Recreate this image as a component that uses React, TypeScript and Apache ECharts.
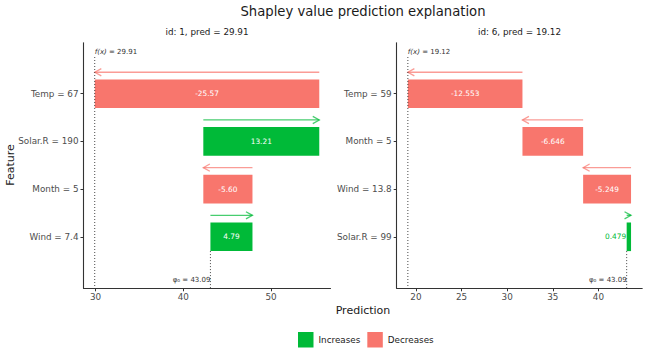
import React, { useEffect, useRef } from "react";
import * as echarts from "echarts";

// ---------- data ----------
const baseValue = 43.09;
const leftId = 1;
const leftPred = 29.91;
const leftFeatures = ["Wind = 7.4", "Month = 5", "Solar.R = 190", "Temp = 67"];
const leftContrib = [4.79, -5.6, 13.21, -25.57];
const leftTicks = [30, 40, 50];

const rightId = 6;
const rightPred = 19.12;
const rightFeatures = ["Solar.R = 99", "Wind = 13.8", "Month = 5", "Temp = 59"];
const rightContrib = [0.479, -5.249, -6.646, -12.553];
const rightTicks = [20, 25, 30, 35, 40];

const featureTicks = [1, 2, 3, 4];
const legendNames = ["Increases", "Decreases"];

// ---------- style ----------
const FONT = "DejaVu Sans";
const GREEN = "#00BA38";
const RED = "#F8766D";
const GREEN_ARROW = "rgba(0,186,56,0.72)";
const RED_ARROW = "rgba(248,118,109,0.72)";
const Y_MIN = -0.08;
const Y_MAX = 5.07;

function waterfall(contrib: number[]) {
  let cur = baseValue;
  return contrib.map((v, i) => {
    const s = cur;
    cur = cur + v;
    return [s, cur, i + 1, v];
  });
}

function range(rows: number[][], pred: number) {
  const vals = [pred, baseValue];
  rows.forEach((r) => vals.push(r[0], r[1]));
  const lo = Math.min(...vals);
  const hi = Math.max(...vals);
  const pad = (hi - lo) * 0.05;
  return [lo - pad, hi + pad];
}

function barRender(fill: string, arrow: string, decimals: number) {
  return (params: any, api: any) => {
    const start = api.value(0);
    const end = api.value(1);
    const y = api.value(2);
    const v = api.value(3);
    const a = api.coord([start, y + 0.3]);
    const b = api.coord([end, y - 0.3]);
    const x0 = Math.min(a[0], b[0]);
    const x1 = Math.max(a[0], b[0]);
    const y0 = Math.min(a[1], b[1]);
    const y1 = Math.max(a[1], b[1]);
    const ay = api.coord([start, y + 0.45])[1];
    const dir = end > start ? 1 : -1;
    const tip = b[0];
    const label = v.toFixed(decimals);
    const inside = x1 - x0 > 30;
    return {
      type: "group",
      children: [
        {
          type: "rect",
          shape: { x: x0, y: y0, width: x1 - x0, height: y1 - y0 },
          style: { fill },
        },
        {
          type: "line",
          shape: { x1: a[0], y1: ay, x2: tip, y2: ay },
          style: { stroke: arrow, lineWidth: 1.3 },
        },
        {
          type: "polyline",
          shape: {
            points: [
              [tip - dir * 6.5, ay - 3.6],
              [tip, ay],
              [tip - dir * 6.5, ay + 3.6],
            ],
          },
          style: { stroke: arrow, lineWidth: 1.3, fill: "none" },
        },
        {
          type: "text",
          x: inside ? (x0 + x1) / 2 : x0 - 0.5,
          y: (y0 + y1) / 2,
          style: {
            text: label,
            fill: inside ? "#ffffff" : fill,
            fontSize: 7.4,
            fontFamily: FONT,
            align: inside ? "center" : "right",
            verticalAlign: "middle",
          },
        },
      ],
    };
  };
}

function annotRender(params: any, api: any) {
  const pred = api.value(0);
  const base = api.value(1);
  const t = api.coord([pred, 4.77]);
  const tb = api.coord([pred, Y_MIN]);
  const b = api.coord([base, 0.7]);
  const bb = api.coord([base, Y_MIN]);
  const fl = api.coord([pred, 4.87]);
  const pl = api.coord([base, 0.09]);
  const dot = { stroke: "#333333", lineWidth: 0.9, lineDash: [1, 2] };
  return {
    type: "group",
    children: [
      { type: "line", shape: { x1: t[0], y1: t[1], x2: tb[0], y2: tb[1] }, style: dot },
      { type: "line", shape: { x1: b[0], y1: b[1], x2: bb[0], y2: bb[1] }, style: dot },
      {
        type: "text",
        x: fl[0],
        y: fl[1],
        style: {
          text: "{i|f(x)} = " + pred.toFixed(2),
          rich: { i: { fontStyle: "italic", fontSize: 7, fontFamily: FONT, fill: "#333333" } },
          fill: "#333333",
          fontSize: 7,
          fontFamily: FONT,
          align: "left",
          verticalAlign: "middle",
        },
      },
      {
        type: "text",
        x: pl[0],
        y: pl[1],
        style: {
          text: "φ₀ = " + base.toFixed(2),
          fill: "#333333",
          fontSize: 7,
          fontFamily: FONT,
          align: "right",
          verticalAlign: "middle",
        },
      },
    ],
  };
}

function panelSeries(idx: number, contrib: number[], pred: number, decimals: number) {
  const rows = waterfall(contrib);
  return [
    {
      type: "custom",
      name: legendNames[0],
      xAxisIndex: idx,
      yAxisIndex: idx,
      itemStyle: { color: GREEN },
      clip: false,
      renderItem: barRender(GREEN, GREEN_ARROW, decimals),
      data: rows.filter((r) => r[3] > 0),
    },
    {
      type: "custom",
      name: legendNames[1],
      xAxisIndex: idx,
      yAxisIndex: idx,
      itemStyle: { color: RED },
      clip: false,
      renderItem: barRender(RED, RED_ARROW, decimals),
      data: rows.filter((r) => r[3] < 0),
    },
    {
      type: "custom",
      name: "annot" + idx,
      xAxisIndex: idx,
      yAxisIndex: idx,
      clip: false,
      renderItem: annotRender,
      data: [[pred, baseValue]],
    },
  ];
}

function xAxis(idx: number, r: number[], ticks: number[]) {
  return {
    type: "value",
    gridIndex: idx,
    min: r[0],
    max: r[1],
    axisLine: { show: true, onZero: false, lineStyle: { color: "#333333", width: 1.1 } },
    axisTick: { show: true, length: 3, customValues: ticks, lineStyle: { color: "#333333" } },
    axisLabel: {
      customValues: ticks,
      color: "#4D4D4D",
      fontSize: 8.8,
      fontFamily: FONT,
      margin: 4,
    },
    splitLine: { show: false },
  };
}

function yAxis(idx: number, features: string[]) {
  return {
    type: "value",
    gridIndex: idx,
    min: Y_MIN,
    max: Y_MAX,
    axisLine: { show: true, onZero: false, lineStyle: { color: "#333333", width: 1.1 } },
    axisTick: { show: true, length: 3, customValues: featureTicks, lineStyle: { color: "#333333" } },
    axisLabel: {
      customValues: featureTicks,
      formatter: (v: number) => features[Math.round(v) - 1] || "",
      color: "#4D4D4D",
      fontSize: 8.8,
      fontFamily: FONT,
      margin: 5,
    },
    splitLine: { show: false },
  };
}

function gtext(text: string, x: number, y: number, size: number, extra: any = {}) {
  return {
    type: "text",
    x,
    y,
    ...extra,
    style: {
      text,
      fill: "#1a1a1a",
      fontSize: size,
      fontFamily: FONT,
      align: "center",
      verticalAlign: "middle",
      textAlign: "center",
      textVerticalAlign: "middle",
    },
  };
}

export default function App() {
  const ref = useRef<HTMLDivElement>(null);
  useEffect(() => {
    if (!ref.current) return;
    const chart = echarts.init(ref.current, undefined, { renderer: "svg" });
    const lr = range(waterfall(leftContrib), leftPred);
    const rr = range(waterfall(rightContrib), rightPred);
    const option: any = {
      animation: false,
      backgroundColor: "#ffffff",
      grid: [
        { left: 83.5, top: 42.7, width: 247, height: 245.6 },
        { left: 396.7, top: 42.7, width: 245.5, height: 245.6 },
      ],
      xAxis: [xAxis(0, lr, leftTicks), xAxis(1, rr, rightTicks)],
      yAxis: [yAxis(0, leftFeatures), yAxis(1, rightFeatures)],
      legend: {
        left: 298,
        top: 332,
        padding: 0,
        icon: "rect",
        itemWidth: 15.5,
        itemHeight: 15.5,
        itemGap: 7,
        selectedMode: false,
        data: [
          { name: legendNames[0], itemStyle: { color: GREEN } },
          { name: legendNames[1], itemStyle: { color: RED } },
        ],
        textStyle: { fontSize: 8.8, color: "#1a1a1a", fontFamily: FONT },
      },
      series: [
        ...panelSeries(0, leftContrib, leftPred, 2),
        ...panelSeries(1, rightContrib, rightPred, 3),
      ],
      graphic: [
        gtext("Shapley value prediction explanation", 363, 11, 13.2),
        gtext(`id: ${leftId}, pred = ${leftPred}`, 207, 32, 8.8),
        gtext(`id: ${rightId}, pred = ${rightPred}`, 519.5, 32, 8.8),
        gtext("Prediction", 363, 310, 11),
        gtext("Feature", 10, 165, 11, { rotation: Math.PI / 2 }),
      ],
    };
    chart.setOption(option);
    return () => chart.dispose();
  }, []);
  return (
    <div
      ref={ref}
      style={{ position: "fixed", left: 0, top: 0, width: 648, height: 360, background: "#fff" }}
    />
  );
}
